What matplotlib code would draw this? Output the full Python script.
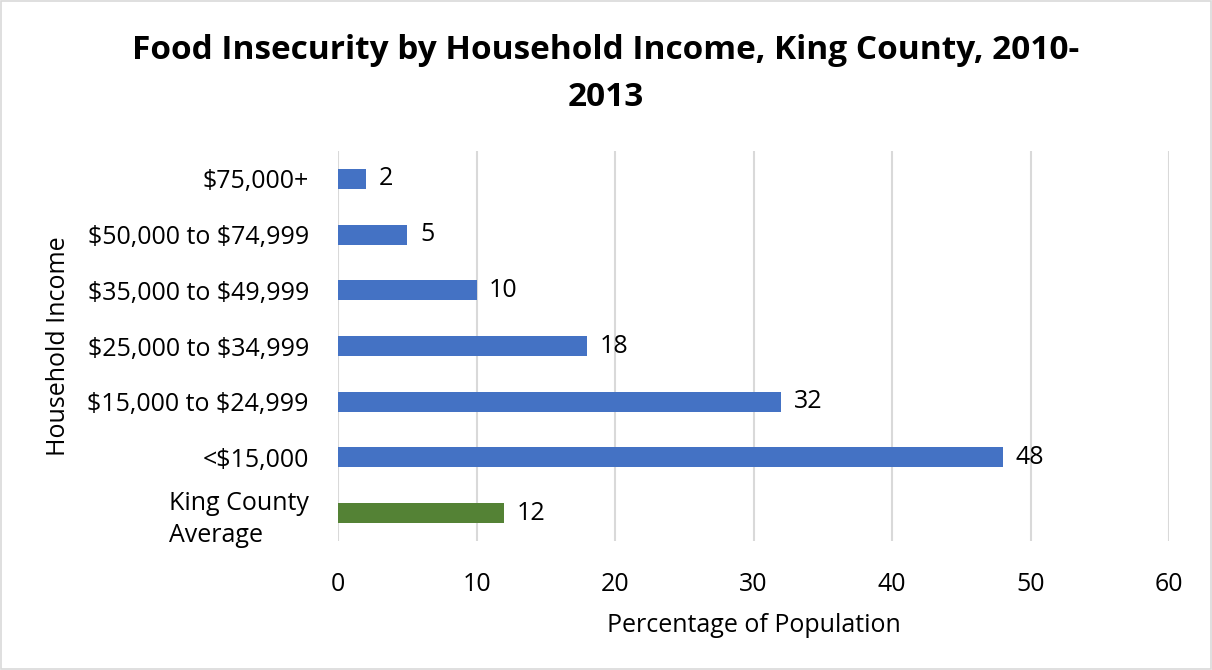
import matplotlib
matplotlib.use('Agg')
import matplotlib.pyplot as plt
from matplotlib.patches import Rectangle

plt.rcParams['font.family'] = ['Open Sans', 'DejaVu Sans']
plt.rcParams['text.parse_math'] = False

# data (bottom to top)
categories = ['King County\nAverage', '<$15,000', '$15,000 to $24,999', '$25,000 to $34,999',
              '$35,000 to $49,999', '$50,000 to $74,999', '$75,000+']
values = [12, 48, 32, 18, 10, 5, 2]
bar_colors = ['#548235', '#4472C4', '#4472C4', '#4472C4', '#4472C4', '#4472C4', '#4472C4']
x_ticks = [0, 10, 20, 30, 40, 50, 60]

fig = plt.figure(figsize=(12.12, 6.7), dpi=100)
ax = fig.add_axes([0.279, 0.1925, 0.6855, 0.582])

bars = ax.barh(range(len(categories)), values, height=0.36, color=bar_colors)
ax.bar_label(bars, labels=[str(v) for v in values], padding=9, fontsize=18)

ax.set_xlim(0, 60)
ax.set_ylim(-0.5, len(categories) - 0.5)
ax.set_xticks(x_ticks)
ax.set_yticks(range(len(categories)))
ax.set_yticklabels(categories)
for lbl in ax.get_yticklabels():
    lbl.set_multialignment('left')
    lbl.set_linespacing(1.35)
ax.tick_params(axis='both', length=0, labelsize=18)
ax.tick_params(axis='x', pad=22)
ax.tick_params(axis='y', pad=21)

ax.grid(axis='x', color='#D9D9D9', linewidth=1.5)
ax.set_axisbelow(True)
for s in ax.spines.values():
    s.set_visible(False)

ax.set_xlabel('Percentage of Population', fontsize=18, labelpad=12)
ax.set_ylabel('Household Income', fontsize=18, labelpad=12)

fig.text(0.5, 0.89, 'Food Insecurity by Household Income, King County, 2010-\n2013',
         ha='center', va='center', fontsize=24, fontweight='bold', linespacing=1.55)

fig.patches.append(Rectangle((0.0008, 0.0012), 0.9984, 0.9976, transform=fig.transFigure,
                             fill=False, edgecolor='#D9D9D9', linewidth=1.2))

fig.savefig('out.png', dpi=100)
